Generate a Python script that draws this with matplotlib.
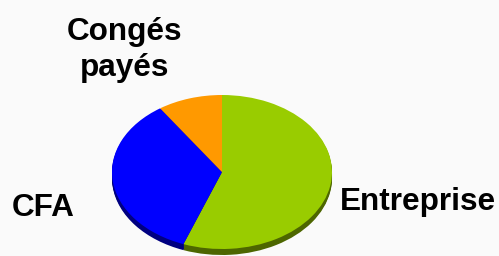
import matplotlib
matplotlib.use("Agg")
import matplotlib.pyplot as plt

labels = ["Entreprise", "CFA", "Congés payés"]
values = [55.7, 34.8, 9.5]
top_colors = ["#99cc00", "#0000ff", "#ff9900"]
side_colors = ["#4d6600", "#000080", "#804c00"]

W, H = 499, 256
cx, cy = 222, 172          # pixel centre of top face
rx, ry = 110, 77           # pixel radii
depth = 6

fig = plt.figure(figsize=(W / 100, H / 100), dpi=100)
bg = "#fafafa"
fig.patch.set_facecolor(bg)
ax = fig.add_axes([0, 0, 1, 1])
ax.set_facecolor(bg)

# side (extrusion)
for d in range(depth, 0, -1):
    ax.pie(values, colors=side_colors, startangle=90, counterclock=False,
           radius=1, center=(0, -d / ry),
           wedgeprops=dict(linewidth=0, antialiased=True))
# top face
ax.pie(values, colors=top_colors, startangle=90, counterclock=False,
       radius=1, center=(0, 0),
       wedgeprops=dict(linewidth=0, antialiased=True))

ax.set_aspect("auto")
ax.set_xlim(-cx / rx, (W - cx) / rx)
ax.set_ylim(-(H - cy) / ry, cy / ry)
ax.axis("off")

font = dict(family=["Liberation Sans", "DejaVu Sans"], fontweight="bold",
            fontsize=22.7, color="black")
fig.text(340 / W, 1 - 202 / H, labels[0], ha="left", va="center", **font)
fig.text(12 / W, 1 - 208 / H, labels[1], ha="left", va="center", **font)
fig.text(125 / W, 1 - 50 / H, "Congés\npayés", ha="center", va="center",
         linespacing=1.3, **font)

fig.savefig("out.png", dpi=100, facecolor=bg)
